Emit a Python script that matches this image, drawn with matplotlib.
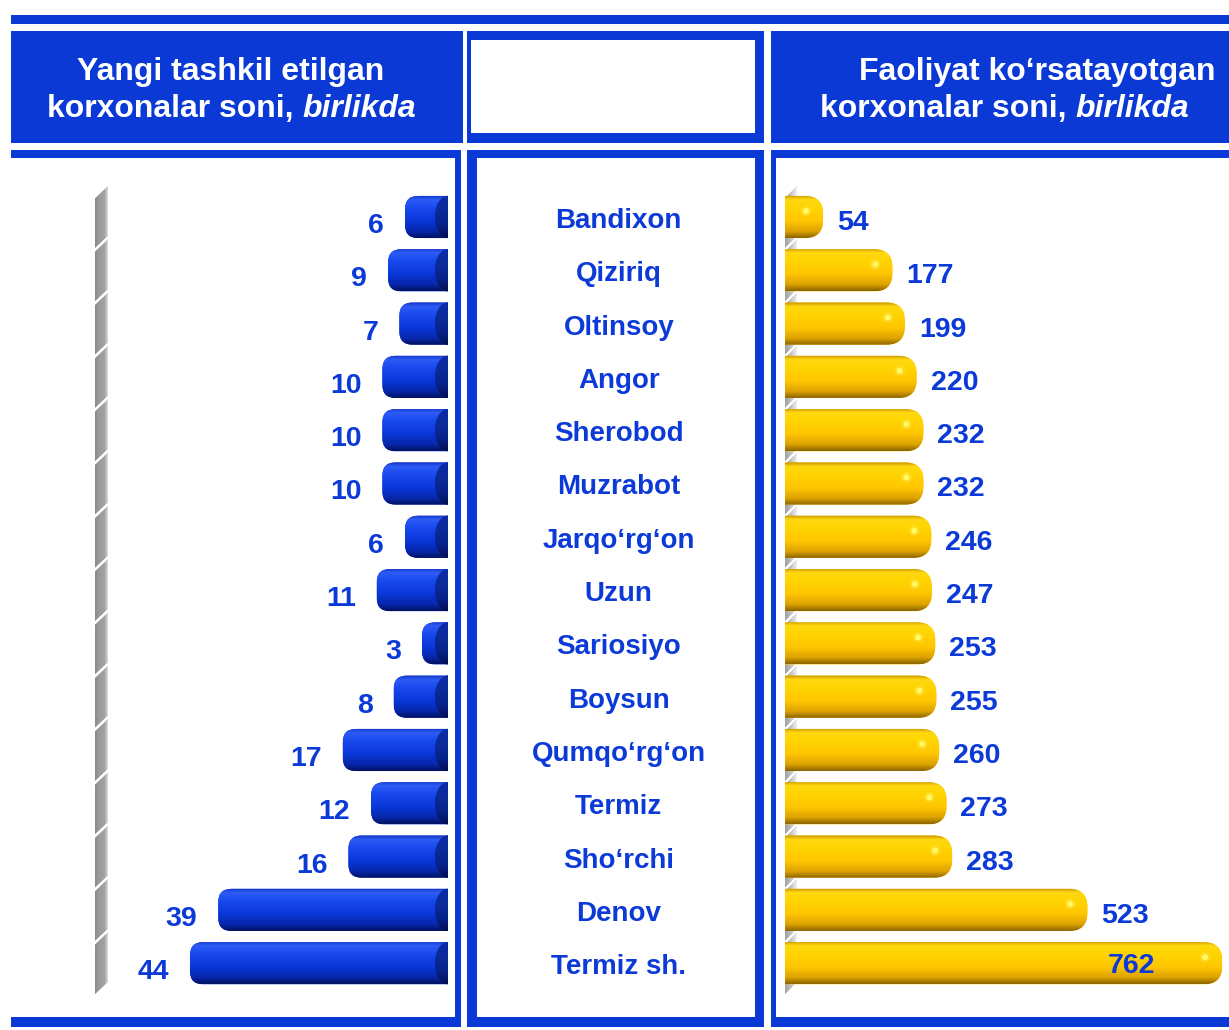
import numpy as np
import matplotlib.pyplot as plt
from matplotlib.patches import Rectangle, FancyBboxPatch, Ellipse, Polygon
from matplotlib.colors import to_rgb
from matplotlib import transforms

plt.rcParams["font.family"] = ["Liberation Sans", "DejaVu Sans"]

W, H = 1229, 1030
BLUE = "#0a39d6"
TEXT_BLUE = "#0b3ad8"

# Tumanlar va korxonalar soni
districts = ["Bandixon", "Qiziriq", "Oltinsoy", "Angor", "Sherobod", "Muzrabot",
             "Jarqo‘rg‘on", "Uzun", "Sariosiyo", "Boysun", "Qumqo‘rg‘on", "Termiz",
             "Sho‘rchi", "Denov", "Termiz sh."]
new_firms = [6, 9, 7, 10, 10, 10, 6, 11, 3, 8, 17, 12, 16, 39, 44]
active_firms = [54, 177, 199, 220, 232, 232, 246, 247, 253, 255, 260, 273, 283, 523, 762]

left_title = ["Yangi tashkil etilgan", "korxonalar soni,", "birlikda"]
right_title = ["Faoliyat ko‘rsatayotgan", "korxonalar soni,", "birlikda"]

fig = plt.figure(figsize=(W / 100, H / 100), dpi=100)


def px_rect(x0, y0, x1, y1, color=BLUE):
    fig.add_artist(Rectangle((x0 / W, 1 - y1 / H), (x1 - x0) / W, (y1 - y0) / H,
                             transform=fig.transFigure, facecolor=color,
                             edgecolor="none", zorder=0))


def px_axes(x0, y0, x1, y1):
    ax = fig.add_axes([x0 / W, 1 - y1 / H, (x1 - x0) / W, (y1 - y0) / H])
    ax.set_axis_off()
    ax.patch.set_facecolor("none")
    return ax


def gradient(stops, n=96):
    pos = [p for p, _ in stops]
    cols = np.array([to_rgb(c) for _, c in stops])
    t = np.linspace(0, 1, n)
    return np.stack([np.interp(t, pos, cols[:, k]) for k in range(3)], axis=-1)


BLUE_BAR = gradient([(0.0, "#1334c0"), (0.1, "#2d5cf7"), (0.3, "#1848ee"),
                     (0.6, "#0a37d8"), (0.85, "#0726aa"), (1.0, "#02125e")])[:, None, :]
BLUE_CAP = gradient([(0.0, "#0c2ba6"), (0.3, "#0a2c9c"), (0.7, "#07238a"),
                     (1.0, "#020f50")])[:, None, :]
GOLD_BAR = gradient([(0.0, "#c69400"), (0.1, "#ffd810"), (0.3, "#ffd400"),
                     (0.6, "#ffc600"), (0.85, "#dca200"), (1.0, "#8a6400")])[:, None, :]
WALL_L = gradient([(0.0, "#8a8a8a"), (0.3, "#9a9a9a"), (0.75, "#a2a2a2"),
                   (1.0, "#dedede")])[None, :, :]
WALL_R = gradient([(0.0, "#a0a0a0"), (0.5, "#c2c2c2"), (1.0, "#f2f2f2")])[None, :, :]

# ramkalar
px_rect(11, 15, 1229, 24)
px_rect(11, 31, 463, 143)
px_rect(467, 31, 764, 143)
px_rect(471, 40, 755, 133, "white")
px_rect(771, 31, 1229, 143)
px_rect(11, 150, 461, 158)
px_rect(455, 150, 461, 1027)
px_rect(11, 1017, 461, 1027)
px_rect(467, 150, 764, 158)
px_rect(467, 150, 477, 1027)
px_rect(755, 150, 764, 1027)
px_rect(467, 1017, 764, 1027)
px_rect(771, 150, 776, 1027)
px_rect(771, 150, 1229, 158)
px_rect(771, 1017, 1229, 1027)

# sarlavhalar
renderer = fig.canvas.get_renderer()


def header(cx1, cx2, lines):
    kw = dict(color="white", fontsize=23, fontweight="bold", va="baseline")
    fig.text(cx1 / W, 1 - 80 / H, lines[0], ha="center", **kw)
    ta = fig.text(0, 1 - 117 / H, lines[1], ha="left", **kw)
    tb = fig.text(0, 1 - 117 / H, lines[2], ha="left", style="italic", **kw)
    wa = ta.get_window_extent(renderer).width + 9
    wb = tb.get_window_extent(renderer).width
    x0 = cx2 - (wa + wb) / 2
    ta.set_x(x0 / W)
    tb.set_x((x0 + wa) / W)


header(231, 232, left_title)
header(1037, 1005, right_title)

# qatorlar geometriyasi (piksel)
ROW0, ROW, TOP, BOT = 217, 53.3, 180, 1000
ylim = ((BOT - ROW0) / ROW, (TOP - ROW0) / ROW)
bar_h = 0.79
rows = np.arange(len(districts))


def walls(ax, xa, xb, img):
    gap, s = 4 / ROW, 0.115
    for i in rows:
        top, bot = i - 0.5 + gap / 2, i + 0.5 - gap / 2
        poly = Polygon([(xa, top + s), (xb, top - s), (xb, bot - s), (xa, bot + s)],
                       closed=True, facecolor="#a0a0a0", edgecolor="none", zorder=1)
        ax.add_patch(poly)
        im = ax.imshow(img, extent=(xa, xb, bot + s, top - s), origin="upper",
                       aspect="auto", interpolation="bilinear", zorder=1.1)
        im.set_clip_path(poly)


# chap grafik: yangi korxonalar (chapga qarab)
L0, LS = 439, 5.66
ax_l = px_axes(90, TOP, 448, BOT)
lx = lambda px: (L0 - px) / LS
walls(ax_l, lx(95), lx(108), WALL_L)
for i, v in zip(rows, new_firms):
    x0 = -6
    bar = FancyBboxPatch((x0, i - bar_h / 2), v - x0, bar_h,
                         boxstyle=f"round,pad=0,rounding_size={13 / LS}",
                         mutation_aspect=LS / ROW, facecolor="#0a37d8",
                         edgecolor="none", zorder=2)
    ax_l.add_patch(bar)
    im = ax_l.imshow(BLUE_BAR, extent=(x0, v, i + bar_h / 2, i - bar_h / 2),
                     origin="upper", aspect="auto", interpolation="bilinear", zorder=2.1)
    im.set_clip_path(bar)
    cap = Ellipse((lx(448), i), 26 / LS, bar_h, facecolor="#08288f",
                  edgecolor="none", zorder=3)
    ax_l.add_patch(cap)
    im = ax_l.imshow(BLUE_CAP, extent=(lx(435), lx(448), i + bar_h / 2, i - bar_h / 2),
                     origin="upper", aspect="auto", interpolation="bilinear", zorder=3.1)
    im.set_clip_path(cap)
    ax_l.annotate(str(v), xy=(v, i), xytext=(-21, -16), textcoords="offset pixels",
                  ha="right", va="baseline", fontsize=20.5, fontweight="bold",
                  color=TEXT_BLUE, zorder=5)
ax_l.set_xlim(lx(90), lx(448))
ax_l.set_ylim(*ylim)

# o'rta ustun: tuman nomlari
ax_m = px_axes(477, TOP, 755, BOT)
blend = transforms.blended_transform_factory(ax_m.transAxes, ax_m.transData)
for i, name in zip(rows, districts):
    ax_m.annotate(name, xy=(0.51, i), xycoords=blend, xytext=(0, -11),
                  textcoords="offset pixels", ha="center", va="baseline",
                  fontsize=20, fontweight="bold", color=TEXT_BLUE)
ax_m.set_xlim(0, 1)
ax_m.set_ylim(*ylim)

# o'ng grafik: faoliyat ko'rsatayotgan korxonalar
R0, RS = 792.6, 0.5636
ax_r = px_axes(785, TOP, 1229, BOT)
rx = lambda px: (px - R0) / RS
walls(ax_r, rx(785), rx(797), WALL_R)
top_val = max(active_firms)
for i, v in zip(rows, active_firms):
    x0 = -60
    bar = FancyBboxPatch((x0, i - bar_h / 2), v - x0, bar_h,
                         boxstyle=f"round,pad=0,rounding_size={18 / RS}",
                         mutation_aspect=RS / ROW, facecolor="#ffc600",
                         edgecolor="none", zorder=2)
    ax_r.add_patch(bar)
    im = ax_r.imshow(GOLD_BAR, extent=(x0, v, i + bar_h / 2, i - bar_h / 2),
                     origin="upper", aspect="auto", interpolation="bilinear", zorder=2.1)
    im.set_clip_path(bar)
    # yaltiroq nuqta
    ax_r.add_patch(Ellipse((v - 17 / RS, i - 6 / ROW), 11 / RS, 11 / ROW,
                           facecolor="#ffee60", edgecolor="none", alpha=0.3, zorder=3))
    ax_r.add_patch(Ellipse((v - 17 / RS, i - 6 / ROW), 6 / RS, 6 / ROW,
                           facecolor="#ffff70", edgecolor="none", alpha=0.85, zorder=3.1))
    if v == top_val:
        off, ha = (-67, -10), "right"
    else:
        off, ha = (14, -13), "left"
    ax_r.annotate(str(v), xy=(v, i), xytext=off, textcoords="offset pixels",
                  ha=ha, va="baseline", fontsize=20.5, fontweight="bold",
                  color=TEXT_BLUE, zorder=5)
ax_r.set_xlim(rx(785), rx(1229))
ax_r.set_ylim(*ylim)

fig.savefig("out.png", dpi=100, facecolor="white")
